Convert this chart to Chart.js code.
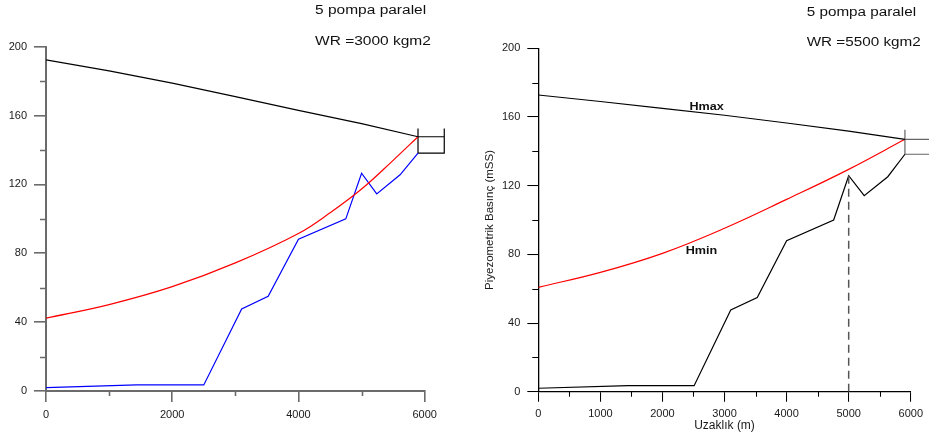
<!DOCTYPE html>
<html>
<head>
<meta charset="utf-8">
<title>Piyezometrik basınç</title>
<script src="https://cdn.jsdelivr.net/npm/chart.js@4/dist/chart.umd.min.js"></script>
<style>
  body { margin: 0; background: #fff; }
  #wrap { position: relative; width: 929px; height: 436px; overflow: hidden; }
  canvas { position: absolute; top: 0; }
</style>
</head>
<body>
<div id="wrap">
  <canvas id="chartA" width="465" height="436" style="left:0"></canvas>
  <canvas id="chartB" width="464" height="436" style="left:465px"></canvas>
</div>
<script>
// Left panel: WR = 3000 kgm2
const hmaxDistA = [0, 1000, 2000, 3000, 4000, 5000, 5894];
const hmaxA = [192.3, 186, 178.8, 171, 163, 155.3, 147.7];
const hminDistA = [0, 1000, 2000, 3000, 4000, 4500, 5000, 5500, 5894];
const hminA = [42.3, 50.2, 60.6, 74.4, 91.5, 103.5, 117.3, 134, 147.7];
const profDistA = [0, 1440, 2500, 3100, 3520, 4000, 4750, 5000, 5240, 5610, 5894];
const profA = [2, 3.5, 3.5, 47.7, 55, 88.2, 100, 126.5, 114.5, 125.6, 138.2];
const tankDistA = [5894, 6310];
const tankLevelsA = [152.5, 147.7, 138.2];   // wall top, water level, bottom

// Right panel: WR = 5500 kgm2
const hmaxDistB = [0, 1000, 2000, 3000, 4000, 5000, 5906];
const hmaxB = [172.8, 169, 165, 161, 156.5, 151.8, 147];
const hminDistB = [0, 1000, 2000, 3000, 4000, 5000, 5906];
const hminB = [60.8, 69.5, 80.6, 95.2, 112, 129.5, 147];
const profDistB = [0, 1450, 2510, 3100, 3527, 4000, 4758, 5000, 5250, 5630, 5906];
const profB = [2, 3.5, 3.5, 47.6, 54.8, 88, 100, 125.8, 114.2, 125.2, 138.3];
const tankDistB = [5906, 6450];
const tankLevelsB = [152.5, 147, 138.3];
const markerDistB = 5000;

// Tick values
const yTicks = [0, 40, 80, 120, 160, 200];
const yMinor = [20, 60, 100, 140, 180];
const xTicksA = [0, 2000, 4000, 6000];
const xMinorA = [1000, 3000, 5000];
const xTicksB = [0, 1000, 2000, 3000, 4000, 5000, 6000];
const xMinorB = [500, 1500, 2500, 3500, 4500, 5500];

const FONT = "'Liberation Sans', Arial, sans-serif";

const toPoints = (xs, ys) => xs.map((x, i) => ({ x: x, y: ys[i] }));

const tankPoints = (d, lv) => [
  { x: d[0], y: lv[0] }, { x: d[0], y: lv[2] }, { x: d[1], y: lv[2] }, { x: d[1], y: lv[0] },
  { x: d[1], y: null },
  { x: d[0], y: lv[1] }, { x: d[1], y: lv[1] }
];

// draws the small unlabeled ticks and the free texts
const extrasPlugin = {
  id: 'extras',
  afterDraw(chart, args, opts) {
    const ctx = chart.ctx;
    const area = chart.chartArea;
    const xs = chart.scales.x, ys = chart.scales.y;
    ctx.save();
    ctx.strokeStyle = opts.tickColor;
    ctx.lineWidth = opts.tickWidth;
    ctx.beginPath();
    opts.yMinor.forEach(v => {
      const py = Math.round(ys.getPixelForValue(v)) + 0.5;
      ctx.moveTo(area.left, py);
      ctx.lineTo(area.left - opts.yMinorLen, py);
    });
    opts.xMinor.forEach(v => {
      const px = Math.round(xs.getPixelForValue(v)) + 0.5;
      ctx.moveTo(px, area.bottom);
      ctx.lineTo(px, area.bottom + opts.xMinorLen);
    });
    ctx.stroke();

    ctx.fillStyle = '#111';
    ctx.textBaseline = 'middle';
    (opts.notes || []).forEach(n => {
      ctx.save();
      ctx.font = n.font;
      const px = n.value ? xs.getPixelForValue(n.x) : n.x;
      const py = n.value ? ys.getPixelForValue(n.y) : n.y;
      ctx.translate(px, py);
      ctx.scale(n.sx || 1, 1);
      ctx.textAlign = n.align || 'left';
      ctx.fillText(n.text, 0, 0);
      ctx.restore();
    });
    ctx.restore();
  }
};

function makePanel(id, p) {
  const axisFont = { family: FONT, size: 11 };
  new Chart(document.getElementById(id), {
    type: 'scatter',
    data: { datasets: p.datasets },
    options: {
      responsive: false,
      animation: false,
      devicePixelRatio: 1,
      layout: { padding: p.padding },
      elements: { point: { radius: 0, hoverRadius: 0 }, line: { borderWidth: 1.2 } },
      plugins: {
        legend: { display: false },
        tooltip: { enabled: false },
        extras: {
          tickColor: p.axisColor, tickWidth: p.axisWidth * 0.8,
          yMinor: yMinor, xMinor: p.xMinor,
          yMinorLen: p.yMinorLen, xMinorLen: p.xMinorLen,
          notes: p.notes
        }
      },
      scales: {
        x: {
          type: 'linear', min: 0, max: 6000,
          afterBuildTicks: s => { s.ticks = p.xTicks.map(v => ({ value: v })); },
          afterFit: s => { s.height = p.xHeight; },
          ticks: { font: axisFont, color: '#1a1a1a', padding: 6, maxRotation: 0, autoSkip: false, callback: v => String(v) },
          grid: { drawOnChartArea: false, drawTicks: true, tickLength: p.xTickLen, color: p.axisColor, lineWidth: p.axisWidth * 0.8 },
          border: { display: true, color: p.axisColor, width: p.axisWidth },
          title: p.xTitle ? { display: true, text: p.xTitle, font: { family: FONT, size: 12 }, color: '#1a1a1a', padding: { top: 0, bottom: 3 } } : { display: false }
        },
        y: {
          type: 'linear', min: 0, max: 200,
          afterBuildTicks: s => { s.ticks = yTicks.map(v => ({ value: v })); },
          afterFit: s => { s.width = p.yWidth; },
          ticks: { font: axisFont, color: '#1a1a1a', padding: 7, autoSkip: false, callback: v => String(v) },
          grid: { drawOnChartArea: false, drawTicks: true, tickLength: p.yTickLen, color: p.axisColor, lineWidth: p.axisWidth * 0.8 },
          border: { display: true, color: p.axisColor, width: p.axisWidth },
          title: p.yTitle ? { display: true, text: p.yTitle, font: { family: FONT, size: 11.5 }, color: '#1a1a1a', padding: { top: 18, bottom: 0 } } : { display: false }
        }
      }
    },
    plugins: [extrasPlugin]
  });
}

const titleFont = '12.5px ' + FONT;
const labelFont = 'bold 10.5px ' + FONT;

makePanel('chartA', {
  padding: { left: 0, right: 40.3, top: 46.7, bottom: 0 },
  yWidth: 46, xHeight: 45,
  yTickLen: 12, xTickLen: 11, yMinorLen: 6, xMinorLen: 5,
  axisColor: '#6b6b6b', axisWidth: 2,
  xTicks: xTicksA, xMinor: xMinorA,
  notes: [
    { text: '5 pompa paralel', x: 315, y: 11, font: titleFont, sx: 1.24 },
    { text: 'WR =3000 kgm2', x: 315, y: 42, font: titleFont, sx: 1.24 }
  ],
  datasets: [
    { data: toPoints(hmaxDistA, hmaxA), borderColor: '#000', showLine: true },
    { data: toPoints(hminDistA, hminA), borderColor: '#ff0000', showLine: true, tension: 0.4 },
    { data: toPoints(profDistA, profA), borderColor: '#0000ff', showLine: true },
    { data: tankPoints(tankDistA, tankLevelsA), borderColor: '#000', showLine: true, spanGaps: false, clip: false }
  ]
});

makePanel('chartB', {
  padding: { left: 0, right: 12.3, top: 48.3, bottom: 0 },
  yWidth: 73.3, xHeight: 44.3,
  yTickLen: 11, xTickLen: 10, yMinorLen: 6, xMinorLen: 5,
  axisColor: '#000', axisWidth: 1.3,
  xTicks: xTicksB, xMinor: xMinorB,
  xTitle: 'Uzaklık (m)',
  yTitle: 'Piyezometrik Basınç (mSS)',
  notes: [
    { text: '5 pompa paralel', x: 341.7, y: 13, font: titleFont, sx: 1.22 },
    { text: 'WR =5500 kgm2', x: 341.7, y: 43, font: titleFont, sx: 1.22 },
    { text: 'Hmax', x: 2712, y: 165.6, value: true, font: labelFont, sx: 1.2, align: 'center' },
    { text: 'Hmin', x: 2628, y: 81.9, value: true, font: labelFont, sx: 1.2, align: 'center' }
  ],
  datasets: [
    { data: toPoints(hmaxDistB, hmaxB), borderColor: '#000', showLine: true },
    { data: toPoints(hminDistB, hminB), borderColor: '#ff0000', showLine: true, tension: 0.4 },
    { data: [{ x: markerDistB, y: 0 }, { x: markerDistB, y: profB[profDistB.indexOf(markerDistB)] }], borderColor: '#555', borderWidth: 1.5, borderDash: [8, 5], showLine: true },
    { data: toPoints(profDistB, profB), borderColor: '#000', showLine: true },
    { data: tankPoints(tankDistB, tankLevelsB), borderColor: '#666', showLine: true, spanGaps: false, clip: false }
  ]
});
</script>
</body>
</html>
